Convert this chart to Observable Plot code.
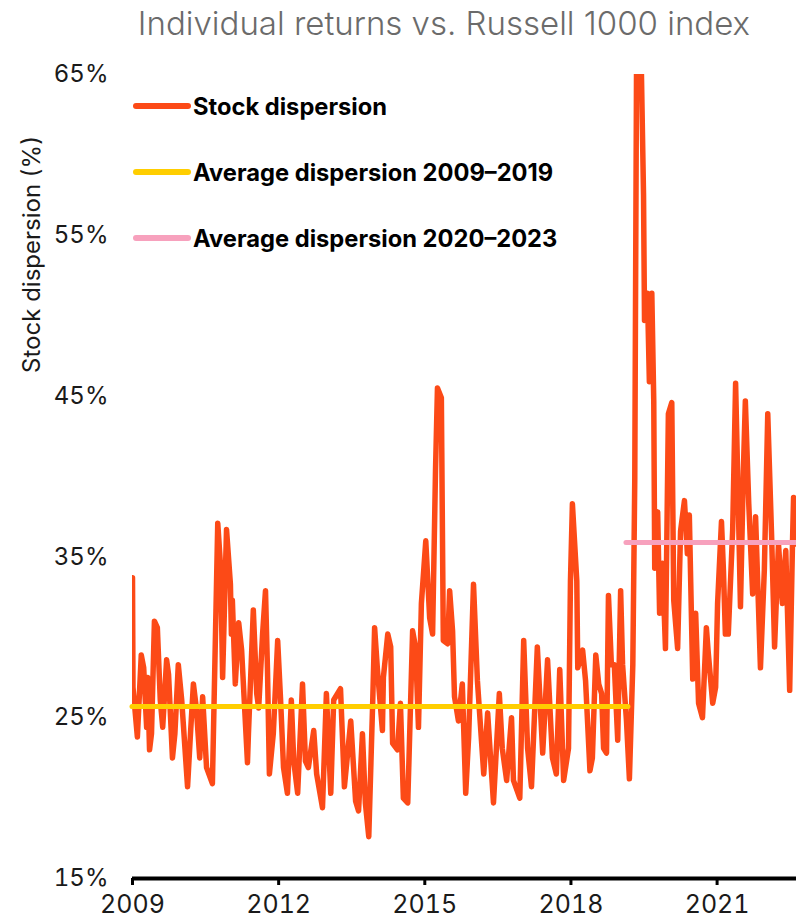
<!DOCTYPE html>
<html>
<head>
<meta charset="utf-8">
<script src="https://cdn.jsdelivr.net/npm/d3@7"></script>
<script src="https://cdn.jsdelivr.net/npm/@observablehq/plot@0.6"></script>
<style>
  html, body { margin: 0; padding: 0; background: #fff; }
  #wrap { position: relative; width: 796px; height: 920px; font-family: Inter, Roboto, sans-serif; }
  #title { height: 44px; line-height: 46px; text-align: center; font-size: 33px; color: #6b6b6b; font-weight: 300; padding-left: 92px; box-sizing: border-box; white-space: nowrap; }
  #legend { position: absolute; left: 133px; top: 92px; }
  .row { position: absolute; left: 0; height: 28px; display: flex; align-items: center; white-space: nowrap; }
  .sw { width: 58px; height: 6px; border-radius: 3px; margin-right: 2px; }
  .lt { font-weight: 700; font-size: 23.7px; color: #000; }
</style>
</head>
<body>
<div id="wrap">
  <div id="title">Individual returns vs. Russell 1000 index</div>
  <div id="chart"></div>
  <div id="legend"></div>
</div>
<script>
// ---- Data ----
const years = [
  2009.00, 2009.01, 2009.10, 2009.18, 2009.23, 2009.29, 2009.31, 2009.35, 2009.39, 2009.45,
  2009.51, 2009.57, 2009.62, 2009.70, 2009.74, 2009.82, 2009.87, 2009.94, 2010.01, 2010.13,
  2010.19, 2010.25, 2010.31, 2010.38, 2010.44, 2010.52, 2010.64, 2010.75, 2010.81, 2010.85,
  2010.93, 2011.01, 2011.03, 2011.05, 2011.11, 2011.18, 2011.24, 2011.36, 2011.38, 2011.48,
  2011.55, 2011.59, 2011.67, 2011.73, 2011.77, 2011.81, 2011.89, 2011.98, 2012.04, 2012.10,
  2012.18, 2012.26, 2012.31, 2012.39, 2012.49, 2012.55, 2012.61, 2012.72, 2012.78, 2012.90,
  2012.98, 2013.07, 2013.13, 2013.27, 2013.35, 2013.48, 2013.58, 2013.64, 2013.72, 2013.78,
  2013.85, 2013.93, 2013.97, 2014.03, 2014.13, 2014.15, 2014.24, 2014.30, 2014.34, 2014.44,
  2014.50, 2014.56, 2014.65, 2014.75, 2014.81, 2014.87, 2014.93, 2015.02, 2015.10, 2015.16,
  2015.22, 2015.26, 2015.34, 2015.38, 2015.47, 2015.51, 2015.57, 2015.61, 2015.69, 2015.77,
  2015.84, 2015.90, 2016.00, 2016.08, 2016.21, 2016.29, 2016.41, 2016.53, 2016.59, 2016.68,
  2016.78, 2016.82, 2016.95, 2017.03, 2017.11, 2017.19, 2017.31, 2017.42, 2017.52, 2017.62,
  2017.70, 2017.77, 2017.85, 2017.95, 2017.99, 2018.03, 2018.12, 2018.14, 2018.24, 2018.30,
  2018.39, 2018.44, 2018.51, 2018.57, 2018.63, 2018.67, 2018.73, 2018.77, 2018.83, 2018.89,
  2018.96, 2019.02, 2019.06, 2019.14, 2019.20, 2019.27, 2019.31, 2019.35, 2019.43, 2019.49,
  2019.51, 2019.57, 2019.61, 2019.66, 2019.70, 2019.72, 2019.78, 2019.82, 2019.88, 2019.94,
  2020.00, 2020.07, 2020.11, 2020.19, 2020.25, 2020.33, 2020.39, 2020.43, 2020.50, 2020.56,
  2020.62, 2020.70, 2020.78, 2020.82, 2020.91, 2020.97, 2021.01, 2021.09, 2021.13, 2021.17,
  2021.23, 2021.32, 2021.38, 2021.42, 2021.48, 2021.54, 2021.58, 2021.65, 2021.73, 2021.79,
  2021.89, 2021.97, 2022.04, 2022.12, 2022.18, 2022.26, 2022.34, 2022.41, 2022.49, 2022.55,
  2022.57, 2022.61
];
const dispersion = [
  33.7, 26.9, 23.8, 28.9, 28.1, 24.4, 27.5, 23.0, 24.0, 31.0,
  30.6, 26.1, 24.4, 28.6, 27.7, 22.5, 24.0, 28.3, 26.1, 20.7,
  24.0, 27.1, 25.6, 22.5, 26.3, 21.9, 20.9, 37.1, 34.3, 27.5,
  36.7, 33.3, 30.2, 32.3, 27.1, 30.9, 29.2, 22.2, 24.0, 31.7,
  26.5, 25.6, 30.2, 32.9, 28.1, 21.5, 24.0, 29.8, 26.1, 21.9,
  20.3, 26.1, 22.3, 20.3, 27.1, 22.3, 21.9, 24.2, 21.5, 19.4,
  26.5, 20.3, 26.1, 26.8, 20.7, 24.8, 19.8, 19.2, 24.0, 19.7,
  17.6, 25.9, 30.6, 27.9, 24.2, 27.5, 30.2, 29.4, 23.4, 23.0,
  25.9, 20.0, 19.7, 30.4, 29.4, 24.4, 32.1, 36.0, 31.2, 30.2,
  40.4, 45.5, 44.9, 29.8, 29.6, 32.9, 30.4, 26.3, 24.8, 27.1,
  20.3, 23.8, 33.3, 27.3, 21.5, 25.3, 19.7, 26.5, 23.1, 21.1,
  25.0, 21.1, 20.0, 29.8, 23.1, 20.7, 29.4, 22.8, 28.6, 22.5,
  21.5, 28.0, 21.1, 23.1, 33.5, 38.3, 33.5, 28.1, 29.2, 27.3,
  21.7, 22.5, 28.9, 27.1, 26.5, 23.1, 22.8, 32.6, 28.3, 28.3,
  23.6, 32.9, 28.3, 24.8, 21.2, 28.3, 39.8, 68.0, 68.0, 57.5,
  49.7, 51.4, 45.9, 51.4, 44.7, 34.3, 37.8, 31.5, 34.6, 29.3,
  43.9, 44.6, 32.3, 29.3, 36.6, 38.5, 35.2, 37.6, 27.4, 31.5,
  25.9, 25.0, 30.6, 29.0, 25.9, 26.9, 32.1, 37.2, 34.2, 30.2,
  30.2, 36.7, 45.8, 40.4, 31.9, 40.4, 44.7, 38.3, 32.7, 37.5,
  28.1, 34.2, 43.9, 36.2, 29.4, 35.8, 32.1, 35.4, 26.7, 36.2,
  38.7, 35.8
];
const avgLabels = ["Average dispersion 2009\u20132019", "Average dispersion 2020\u20132023"];
const avgStart = [2009.00, 2019.14];
const avgEnd = [2019.18, 2022.63];
const avgValue = [25.7, 35.9];
const xTicks = [2009, 2012, 2015, 2018, 2021];
const yTicks = [15, 25, 35, 45, 55, 65];
const seriesName = "Stock dispersion";
const yLabel = "Stock dispersion (%)";

const colors = { line: "#fc4a17", avg1: "#ffce00", avg2: "#f7a1bd" };

const series = years.map((y, i) => ({ year: y, value: dispersion[i] }));
const avgs = avgLabels.map((l, i) => ({ label: l, x1: avgStart[i], x2: avgEnd[i], y: avgValue[i] }));

const chart = Plot.plot({
  width: 796,
  height: 876,
  marginTop: 30,
  marginBottom: 42,
  marginLeft: 132,
  marginRight: 0,
  style: { fontFamily: "Inter, Roboto, sans-serif", fontSize: "24px", color: "#1a1a1a", background: "#fff" },
  x: { domain: [2009, 2022.63] },
  y: { domain: [15, 65] },
  marks: [
    Plot.axisY({ ticks: yTicks, tickSize: 0, tickPadding: 24, label: null, tickFormat: d => d + "%", fontSize: 24 }),
    Plot.axisX({ ticks: xTicks, tickSize: 7, tickPadding: 10, label: null, tickFormat: d => String(d), stroke: "#000", strokeWidth: 3, fontSize: 25 }),
    Plot.text([yLabel], { frameAnchor: "top-left", dx: -110, dy: 180, rotate: -90, textAnchor: "middle", fontSize: 24, fill: "#1a1a1a" }),
    Plot.line(series, { x: "year", y: "value", stroke: colors.line, strokeWidth: 5.5, strokeLinejoin: "round", strokeLinecap: "round", clip: true }),
    Plot.ruleY(avgs, { x1: "x1", x2: "x2", y: "y", stroke: (d, i) => i === 0 ? colors.avg1 : colors.avg2, strokeWidth: 5, strokeLinecap: "round" }),
    Plot.ruleY([15], { stroke: "#000", strokeWidth: 4 })
  ]
});
document.getElementById("chart").appendChild(chart);

// Legend overlay
const legendItems = [
  { name: seriesName, color: colors.line },
  { name: avgLabels[0], color: colors.avg1 },
  { name: avgLabels[1], color: colors.avg2 }
];
const leg = document.getElementById("legend");
legendItems.forEach((d, i) => {
  const row = document.createElement("div");
  row.className = "row";
  row.style.top = (i * 66) + "px";
  row.innerHTML = `<div class="sw" style="background:${d.color}"></div><span class="lt">${d.name}</span>`;
  leg.appendChild(row);
});
</script>
</body>
</html>
